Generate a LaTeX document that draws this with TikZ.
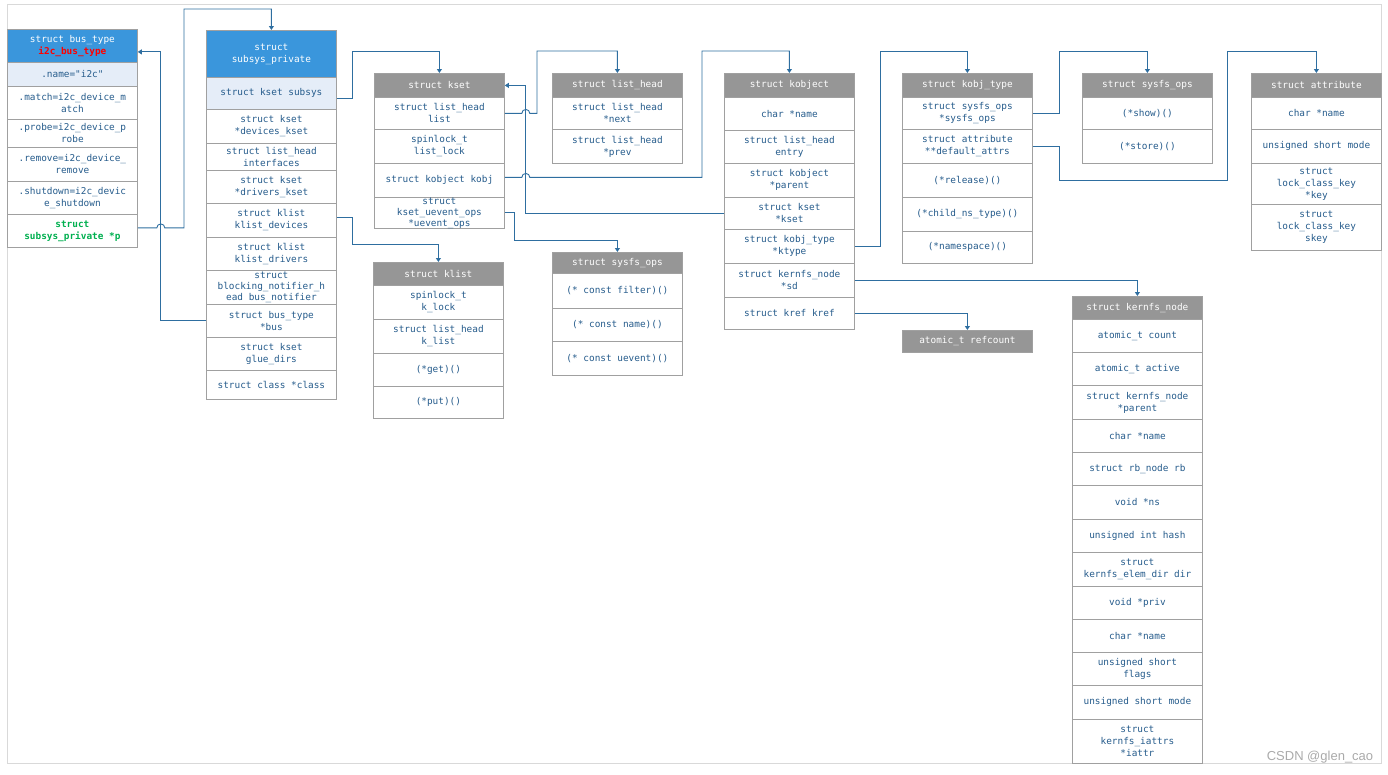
\documentclass[tikz,border=0pt]{standalone}
\usepackage{fontspec}
\newfontfamily\fieldfont{DejaVu Sans Mono}
\newfontfamily\markfont{Liberation Sans}
\usetikzlibrary{arrows.meta}

\definecolor{headblue}{RGB}{58,150,220}
\definecolor{rowblue}{RGB}{229,237,248}
\definecolor{headgray}{RGB}{150,150,150}
\definecolor{boxgray}{RGB}{160,160,160}
\definecolor{textblue}{RGB}{38,92,140}
\definecolor{linkblue}{RGB}{46,110,160}
\definecolor{framegray}{RGB}{217,217,217}
\definecolor{markgray}{RGB}{170,170,170}
\definecolor{fieldgreen}{RGB}{0,176,80}

\begin{document}
\begin{tikzpicture}[x=1pt, y=-1pt,
    field/.style={draw=boxgray, line width=0.8pt, fill=white, anchor=north west,
        minimum width=130, inner sep=0pt, align=center, text=textblue,
        font=\fieldfont\fontsize{9.4}{12}\selectfont},
    tight/.style={font=\fieldfont\fontsize{9.4}{11}\selectfont},
    keyrow/.style={field, fill=rowblue},
    bluehead/.style={field, fill=headblue, text=white},
    grayhead/.style={field, fill=headgray, text=white},
    link/.style={draw=linkblue, line width=0.9pt, -{Triangle[length=4pt,width=5pt]}}]
    \useasboundingbox (0,0) rectangle (1388,774);
    % outer frame
    \draw[framegray, line width=0.8pt] (7,4) rectangle (1381,763);

    % struct bus_type
    \node[bluehead, minimum height=33] (bt-head) at (7,29) {struct bus\_type\\\textcolor{red}{\bfseries i2c\_bus\_type}};
    \node[keyrow, minimum height=24] (bt-name) at (7,62) {.name="i2c"};
    \node[field, minimum height=33] (bt-match) at (7,86) {.match=i2c\_device\_m\\atch};
    \node[field, minimum height=28] (bt-probe) at (7,119) {.probe=i2c\_device\_p\\robe};
    \node[field, minimum height=34] (bt-remove) at (7,147) {.remove=i2c\_device\_\\remove};
    \node[field, minimum height=33] (bt-shut) at (7,181) {.shutdown=i2c\_devic\\e\_shutdown};
    \node[field, minimum height=33, text=fieldgreen, font=\fieldfont\bfseries\fontsize{9.4}{12}\selectfont] (bt-p) at (7,214) {struct\\subsys\_private *p};

    % struct subsys_private
    \node[bluehead, minimum height=47] (sp-head) at (206,30) {struct\\subsys\_private};
    \node[keyrow, minimum height=32] (sp-subsys) at (206,77) {struct kset subsys};
    \node[field, minimum height=34] (sp-devk) at (206,109) {struct kset\\*devices\_kset};
    \node[field, minimum height=27] (sp-intf) at (206,143) {struct list\_head\\interfaces};
    \node[field, minimum height=33] (sp-drvk) at (206,170) {struct kset\\*drivers\_kset};
    \node[field, minimum height=34] (sp-kdev) at (206,203) {struct klist\\klist\_devices};
    \node[field, minimum height=33] (sp-kdrv) at (206,237) {struct klist\\klist\_drivers};
    \node[field, tight, minimum height=34] (sp-notif) at (206,270) {struct\\blocking\_notifier\_h\\ead bus\_notifier};
    \node[field, minimum height=33] (sp-bus) at (206,304) {struct bus\_type\\*bus};
    \node[field, minimum height=33] (sp-glue) at (206,337) {struct kset\\glue\_dirs};
    \node[field, minimum height=29] (sp-class) at (206,370) {struct class *class};

    % struct kset
    \node[grayhead, minimum height=24] (ks-head) at (374,73) {struct kset};
    \node[field, minimum height=32] (ks-list) at (374,97) {struct list\_head\\list};
    \node[field, minimum height=34] (ks-lock) at (374,129) {spinlock\_t\\list\_lock};
    \node[field, minimum height=34] (ks-kobj) at (374,163) {struct kobject kobj};
    \node[field, tight, minimum height=31] (ks-uev) at (374,197) {struct\\kset\_uevent\_ops\\*uevent\_ops};

    % struct list_head
    \node[grayhead, minimum height=24] (lh-head) at (552,73) {struct list\_head};
    \node[field, minimum height=32] (lh-next) at (552,97) {struct list\_head\\*next};
    \node[field, minimum height=34] (lh-prev) at (552,129) {struct list\_head\\*prev};

    % struct klist
    \node[grayhead, minimum height=23] (kl-head) at (373,262) {struct klist};
    \node[field, minimum height=34] (kl-lock) at (373,285) {spinlock\_t\\k\_lock};
    \node[field, minimum height=34] (kl-list) at (373,319) {struct list\_head\\k\_list};
    \node[field, minimum height=33] (kl-get) at (373,353) {(*get)()};
    \node[field, minimum height=32] (kl-put) at (373,386) {(*put)()};

    % uevent ops
    \node[grayhead, minimum height=21] (ue-head) at (552,252) {struct sysfs\_ops};
    \node[field, minimum height=35] (ue-filter) at (552,273) {(* const filter)()};
    \node[field, minimum height=33] (ue-name) at (552,308) {(* const name)()};
    \node[field, minimum height=34] (ue-uevent) at (552,341) {(* const uevent)()};

    % struct kobject
    \node[grayhead, minimum height=24] (ko-head) at (724,73) {struct kobject};
    \node[field, minimum height=33] (ko-name) at (724,97) {char *name};
    \node[field, minimum height=33] (ko-entry) at (724,130) {struct list\_head\\entry};
    \node[field, minimum height=34] (ko-parent) at (724,163) {struct kobject\\*parent};
    \node[field, minimum height=32] (ko-kset) at (724,197) {struct kset\\*kset};
    \node[field, minimum height=34] (ko-ktype) at (724,229) {struct kobj\_type\\*ktype};
    \node[field, minimum height=34] (ko-sd) at (724,263) {struct kernfs\_node\\*sd};
    \node[field, minimum height=32] (ko-kref) at (724,297) {struct kref kref};

    % struct kobj_type
    \node[grayhead, minimum height=24] (kt-head) at (902,73) {struct kobj\_type};
    \node[field, minimum height=32] (kt-sops) at (902,97) {struct sysfs\_ops\\*sysfs\_ops};
    \node[field, minimum height=34] (kt-attrs) at (902,129) {struct attribute\\**default\_attrs};
    \node[field, minimum height=34] (kt-rel) at (902,163) {(*release)()};
    \node[field, minimum height=34] (kt-child) at (902,197) {(*child\_ns\_type)()};
    \node[field, minimum height=32] (kt-ns) at (902,231) {(*namespace)()};

    % refcount
    \node[grayhead, minimum height=22] (rc) at (902,330) {atomic\_t refcount};

    % struct kernfs_node
    \node[grayhead, minimum height=23] (kn-head) at (1072,296) {struct kernfs\_node};
    \node[field, minimum height=33] (kn-count) at (1072,319) {atomic\_t count};
    \node[field, minimum height=33] (kn-active) at (1072,352) {atomic\_t active};
    \node[field, minimum height=34] (kn-parent) at (1072,385) {struct kernfs\_node\\*parent};
    \node[field, minimum height=33] (kn-name) at (1072,419) {char *name};
    \node[field, minimum height=33] (kn-rb) at (1072,452) {struct rb\_node rb};
    \node[field, minimum height=34] (kn-ns) at (1072,485) {void *ns};
    \node[field, minimum height=33] (kn-hash) at (1072,519) {unsigned int hash};
    \node[field, minimum height=34] (kn-dir) at (1072,552) {struct\\kernfs\_elem\_dir dir};
    \node[field, minimum height=33] (kn-priv) at (1072,586) {void *priv};
    \node[field, minimum height=33] (kn-name2) at (1072,619) {char *name};
    \node[field, minimum height=33] (kn-flags) at (1072,652) {unsigned short\\flags};
    \node[field, minimum height=34] (kn-mode) at (1072,685) {unsigned short mode};
    \node[field, minimum height=44] (kn-iattr) at (1072,719) {struct\\kernfs\_iattrs\\*iattr};

    % struct sysfs_ops
    \node[grayhead, minimum height=24] (so-head) at (1082,73) {struct sysfs\_ops};
    \node[field, minimum height=32] (so-show) at (1082,97) {(*show)()};
    \node[field, minimum height=34] (so-store) at (1082,129) {(*store)()};

    % struct attribute
    \node[grayhead, minimum height=24] (at-head) at (1251,73) {struct attribute};
    \node[field, minimum height=32] (at-name) at (1251,97) {char *name};
    \node[field, minimum height=34] (at-mode) at (1251,129) {unsigned short mode};
    \node[field, minimum height=41] (at-key) at (1251,163) {struct\\lock\_class\_key\\*key};
    \node[field, minimum height=46] (at-skey) at (1251,204) {struct\\lock\_class\_key\\skey};

    % bends of the connectors
    \coordinate (j1) at (184,9);
    \coordinate (j2) at (160,0);
    \coordinate (j3) at (352,51);
    \coordinate (j4) at (537,51);
    \coordinate (j6) at (702,51);
    \coordinate (j7) at (514,240);
    \coordinate (j8) at (352,244);
    \coordinate (j9) at (880,51);
    \coordinate (j12) at (1059,51);
    \coordinate (j13a) at (1059,180);
    \coordinate (j13b) at (1227,51);

    % connectors
    \draw[link] (sp-bus.west) -- (sp-bus.west -| j2) |- ([yshift=-6pt]bt-head.east);
    \draw[link] ([yshift=3pt]bt-p.east) -- ++(19,0) arc[start angle=180, end angle=0, radius=4pt]
        -- ([yshift=3pt]bt-p.east -| j1) -- (j1) -| (sp-head.north);
    \draw[link] ([yshift=-5pt]sp-subsys.east) -| (j3) -| (ks-head.north);
    \draw[link] ([yshift=3pt]sp-kdev.east) -| (j8) -| (kl-head.north);
    \draw[link] (ko-kset.west) -- ++(-199,0) |- (ks-head.east);
    \draw[link] (ks-list.east) -- ++(17,0) arc[start angle=180, end angle=0, radius=4pt]
        -- (ks-list.east -| j4) -- (j4) -| (lh-head.north);
    \draw[link] ([yshift=3pt]ks-kobj.east) -- ++(17,0) arc[start angle=180, end angle=0, radius=4pt]
        -- ([yshift=3pt]ks-kobj.east -| j6) -- (j6) -| (ko-head.north);
    \draw[link] (ks-uev.east) -| (j7) -| (ue-head.north);
    \draw[link] (ko-ktype.east) -| (j9) -| (kt-head.north);
    \draw[link] (ko-sd.east) -| (kn-head.north);
    \draw[link] (ko-kref.east) -| (rc.north);
    \draw[link] (kt-sops.east) -| (j12) -| (so-head.north);
    \draw[link] (kt-attrs.east) -| (j13a) -| (j13b) -| (at-head.north);

    % watermark
    \node[text=markgray, font=\markfont\fontsize{13}{13}\selectfont] (mark) at (1320,757) {CSDN @glen\_cao};
\end{tikzpicture}
\end{document}
